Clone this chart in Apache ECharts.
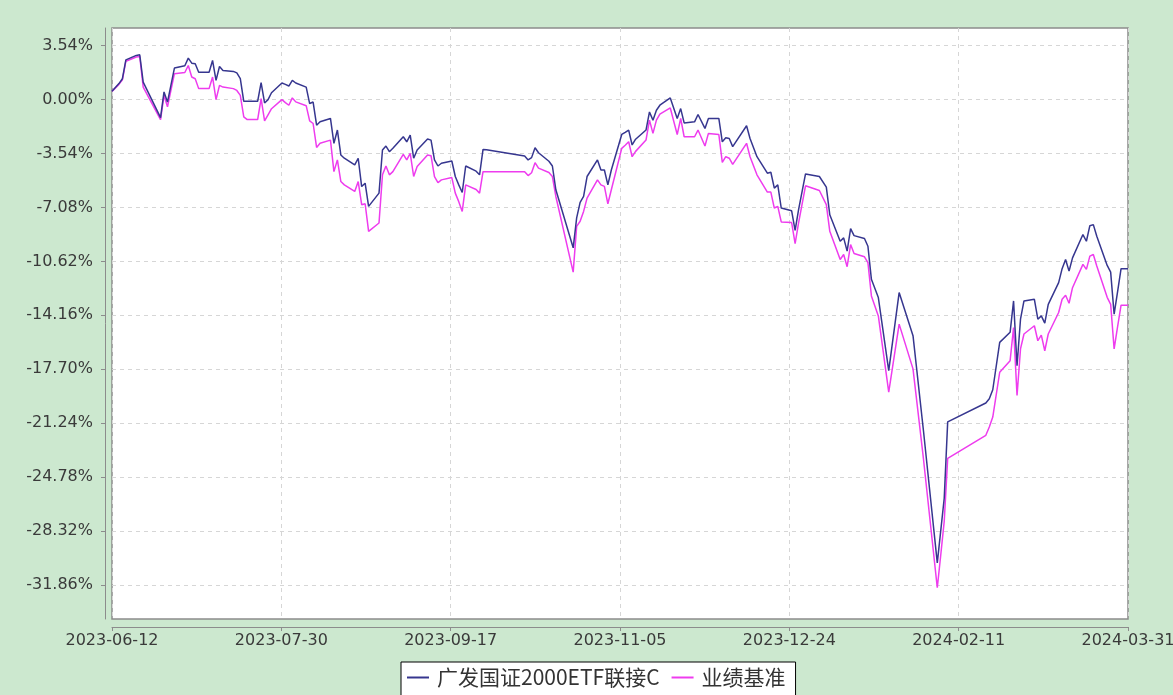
<!DOCTYPE html>
<html>
<head>
	<meta charset="utf-8">
	<title>广发国证2000ETF联接C</title>
	<style type="text/css">
		body{
			margin: 0px;
			background: #cce8cf;
		}
		.chart{
			width: 1173px;
			height: 695px;
		}
	</style>
	<script type="text/javascript" src="https://cdn.jsdelivr.net/npm/echarts@6/dist/echarts.min.js"></script>
</head>
<body>
	<div id="chart" class="chart"></div>
	<script type="text/javascript">
		var seriesNames = ['广发国证2000ETF联接C', '业绩基准'];
		var startDate = '2023-06-12', endDate = '2024-03-31';
		var yTicks = [3.54, 0, -3.54, -7.08, -10.62, -14.16, -17.70, -21.24, -24.78, -28.32, -31.86];

		var dates = [
			'2023-06-12', '2023-06-14', '2023-06-15', '2023-06-16', '2023-06-19', '2023-06-20', '2023-06-21', '2023-06-26', '2023-06-27', '2023-06-28',
			'2023-06-30', '2023-07-03', '2023-07-04', '2023-07-05', '2023-07-06', '2023-07-07', '2023-07-10', '2023-07-11', '2023-07-12', '2023-07-13',
			'2023-07-14', '2023-07-17', '2023-07-18', '2023-07-19', '2023-07-20', '2023-07-21', '2023-07-24', '2023-07-25', '2023-07-26', '2023-07-27',
			'2023-07-28', '2023-07-31', '2023-08-01', '2023-08-02', '2023-08-03', '2023-08-04', '2023-08-07', '2023-08-08', '2023-08-09', '2023-08-10',
			'2023-08-11', '2023-08-14', '2023-08-15', '2023-08-16', '2023-08-17', '2023-08-18', '2023-08-21', '2023-08-22', '2023-08-23', '2023-08-24',
			'2023-08-25', '2023-08-28', '2023-08-29', '2023-08-30', '2023-08-31', '2023-09-01', '2023-09-04', '2023-09-05', '2023-09-06', '2023-09-07',
			'2023-09-08', '2023-09-11', '2023-09-12', '2023-09-13', '2023-09-14', '2023-09-15', '2023-09-18', '2023-09-19', '2023-09-20', '2023-09-21',
			'2023-09-22', '2023-09-25', '2023-09-26', '2023-09-27', '2023-09-28', '2023-10-09', '2023-10-10', '2023-10-11', '2023-10-12', '2023-10-13',
			'2023-10-16', '2023-10-17', '2023-10-18', '2023-10-23', '2023-10-24', '2023-10-25', '2023-10-26', '2023-10-27', '2023-10-30', '2023-10-31',
			'2023-11-01', '2023-11-02', '2023-11-03', '2023-11-06', '2023-11-07', '2023-11-08', '2023-11-09', '2023-11-10', '2023-11-13', '2023-11-14',
			'2023-11-15', '2023-11-16', '2023-11-17', '2023-11-20', '2023-11-22', '2023-11-23', '2023-11-24', '2023-11-27', '2023-11-28', '2023-11-30',
			'2023-12-01', '2023-12-04', '2023-12-05', '2023-12-06', '2023-12-07', '2023-12-08', '2023-12-12', '2023-12-13', '2023-12-15', '2023-12-18',
			'2023-12-19', '2023-12-20', '2023-12-21', '2023-12-22', '2023-12-25', '2023-12-26', '2023-12-27', '2023-12-29', '2024-01-02', '2024-01-04',
			'2024-01-05', '2024-01-08', '2024-01-09', '2024-01-10', '2024-01-11', '2024-01-12', '2024-01-15', '2024-01-16', '2024-01-17', '2024-01-19',
			'2024-01-22', '2024-01-25', '2024-01-29', '2024-02-01', '2024-02-05', '2024-02-06', '2024-02-07', '2024-02-08', '2024-02-19', '2024-02-20',
			'2024-02-21', '2024-02-23', '2024-02-26', '2024-02-27', '2024-02-28', '2024-02-29', '2024-03-01', '2024-03-04', '2024-03-05', '2024-03-06',
			'2024-03-07', '2024-03-08', '2024-03-11', '2024-03-12', '2024-03-13', '2024-03-14', '2024-03-15', '2024-03-18', '2024-03-19', '2024-03-20',
			'2024-03-21', '2024-03-22', '2024-03-25', '2024-03-26', '2024-03-27', '2024-03-28', '2024-03-29', '2024-03-31'
		];
		// 基金累计收益率(%)
		var fundValues = [
			0.54, 1.05, 1.37, 2.61, 2.90, 2.94, 1.15, -1.18, 0.50, -0.16,
			2.07, 2.22, 2.72, 2.39, 2.35, 1.80, 1.80, 2.57, 1.26, 2.17,
			1.91, 1.85, 1.75, 1.37, -0.11, -0.11, -0.11, 1.11, -0.22, 0.00,
			0.45, 1.09, 1.00, 0.89, 1.26, 1.09, 0.82, -0.26, -0.16, -1.68,
			-1.46, -1.24, -2.87, -2.00, -3.64, -3.85, -4.29, -3.85, -5.71, -5.49,
			-7.01, -6.14, -3.31, -3.05, -3.42, -3.20, -2.44, -2.77, -2.33, -3.85,
			-3.31, -2.59, -2.66, -3.96, -4.36, -4.18, -4.03, -5.05, -5.60, -6.10,
			-4.36, -4.70, -4.94, -3.27, -3.30, -3.70, -3.96, -3.81, -3.16, -3.49,
			-4.05, -4.36, -5.92, -9.73, -7.77, -6.75, -6.36, -5.05, -3.96, -4.62,
			-4.62, -5.60, -4.62, -2.29, -2.15, -2.00, -2.98, -2.60, -2.00, -0.81,
			-1.35, -0.70, -0.37, 0.11, -1.24, -0.59, -1.53, -1.46, -0.98, -1.89,
			-1.24, -1.24, -2.77, -2.51, -2.55, -3.09, -1.72, -2.55, -3.75, -4.83,
			-4.77, -5.81, -5.60, -7.12, -7.30, -8.58, -7.23, -4.88, -5.05, -5.75,
			-7.56, -9.30, -9.08, -9.95, -8.47, -8.93, -9.12, -9.63, -11.80, -13.00,
			-17.79, -12.67, -15.50, -21.71, -30.42, -28.30, -26.17, -21.16, -19.92, -19.64,
			-19.05, -15.94, -15.28, -13.22, -17.47, -14.42, -13.22, -13.11, -14.42, -14.20,
			-14.68, -13.44, -12.02, -11.10, -10.50, -11.26, -10.39, -8.86, -9.30, -8.28,
			-8.21, -8.97, -10.89, -11.33, -14.09, -12.60, -11.10, -11.10
		];
		// 业绩基准累计收益率(%)
		var benchValues = [
			0.54, 1.00, 1.30, 2.52, 2.80, 2.83, 0.82, -1.31, 0.28, -0.48,
			1.70, 1.78, 2.24, 1.48, 1.37, 0.72, 0.72, 1.48, 0.00, 0.93,
			0.82, 0.72, 0.60, 0.28, -1.13, -1.31, -1.31, 0.07, -1.40, -1.00,
			-0.60, 0.00, -0.20, -0.37, 0.11, -0.15, -0.40, -1.40, -1.57, -3.14,
			-2.87, -2.66, -4.73, -3.96, -5.38, -5.60, -6.03, -5.38, -6.90, -6.84,
			-8.65, -8.10, -4.94, -4.36, -4.94, -4.73, -3.59, -3.96, -3.53, -5.05,
			-4.40, -3.64, -3.68, -5.05, -5.45, -5.27, -5.12, -6.14, -6.70, -7.34,
			-5.60, -5.90, -6.14, -4.73, -4.73, -4.73, -4.99, -4.80, -4.14, -4.50,
			-4.79, -5.05, -6.36, -11.33, -8.32, -7.99, -7.34, -6.47, -5.27, -5.60,
			-5.70, -6.84, -5.92, -3.20, -3.00, -2.77, -3.75, -3.40, -2.66, -1.35,
			-2.22, -1.35, -0.95, -0.55, -2.29, -1.24, -2.44, -2.44, -2.00, -3.05,
			-2.22, -2.29, -4.12, -3.75, -3.85, -4.25, -2.87, -3.75, -4.94, -6.07,
			-6.07, -7.12, -7.01, -8.03, -8.07, -9.45, -8.10, -5.66, -5.97, -6.90,
			-8.65, -10.50, -10.17, -10.97, -9.52, -10.10, -10.32, -10.71, -12.89, -14.20,
			-19.20, -14.74, -17.68, -23.56, -32.05, -29.90, -27.69, -23.56, -22.04, -21.50,
			-20.84, -17.90, -17.14, -14.96, -19.43, -16.37, -15.39, -14.85, -15.83, -15.46,
			-16.49, -15.39, -13.98, -13.11, -12.85, -13.37, -12.35, -10.82, -11.15, -10.28,
			-10.17, -10.93, -12.98, -13.44, -16.37, -14.90, -13.50, -13.50
		];

		var DAY = 86400000;
		function toDay(str){
			var p = str.split('-');
			return Date.UTC(+p[0], +p[1] - 1, +p[2]);
		}
		var t0 = toDay(startDate);
		var totalDays = (toDay(endDate) - t0) / DAY;
		function dayLabel(v){
			var d = new Date(t0 + Math.floor(v + 1e-6) * DAY);
			var m = d.getUTCMonth() + 1, dd = d.getUTCDate();
			return d.getUTCFullYear() + '-' + (m < 10 ? '0' + m : m) + '-' + (dd < 10 ? '0' + dd : dd);
		}
		function pairs(values){
			var out = [];
			for(var i = 0; i < dates.length; i++){
				out.push([(toDay(dates[i]) - t0) / DAY, values[i]]);
			}
			return out;
		}

		window.onload = function(){
			var chart = echarts.init(document.getElementById('chart'));
			chart.setOption({
				animation: false,
				backgroundColor: '#cce8cf',
				color: ['#36368f', '#ee3cee'],
				grid: {
					left: 112,
					right: 45,
					top: 28,
					bottom: 76,
					outerBoundsMode: 'none',
					containLabel: false,
					show: true,
					backgroundColor: '#ffffff',
					borderColor: '#8c8c8c',
					borderWidth: 1.5
				},
				legend: {
					data: seriesNames,
					left: 401,
					top: 662,
					icon: 'rect',
					itemWidth: 22,
					itemHeight: 2,
					itemGap: 12,
					padding: [5, 10, 10, 6],
					backgroundColor: '#ffffff',
					borderColor: '#000000',
					borderWidth: 1,
					borderRadius: 0,
					textStyle: {
						fontFamily: 'Noto Sans CJK SC',
						fontSize: 21,
						color: '#333333',
						padding: [0, 0, 0, 3]
					}
				},
				xAxis: {
					type: 'value',
					min: 0,
					max: totalDays,
					interval: totalDays / 6,
					offset: 8,
					axisLine: {
						onZero: false,
						lineStyle: {
							color: '#8c8c8c'
						}
					},
					axisTick: {
						length: 4,
						lineStyle: {
							color: '#8c8c8c'
						}
					},
					axisLabel: {
						margin: 6,
						fontFamily: 'DejaVu Sans',
						fontSize: 16,
						color: '#3a3a3a',
						showMinLabel: true,
						showMaxLabel: true,
						hideOverlap: false,
						formatter: dayLabel
					},
					splitLine: {
						show: true,
						lineStyle: {
							color: '#d6d6d6',
							type: [4, 4]
						}
					}
				},
				yAxis: {
					type: 'value',
					min: -34.1,
					max: 4.7,
					offset: 7,
					axisLine: {
						show: true,
						onZero: false,
						lineStyle: {
							color: '#8c8c8c'
						}
					},
					axisTick: {
						show: true,
						length: 4,
						customValues: yTicks,
						lineStyle: {
							color: '#8c8c8c'
						}
					},
					axisLabel: {
						margin: 12,
						fontFamily: 'DejaVu Sans',
						fontSize: 16,
						color: '#3a3a3a',
						customValues: yTicks,
						formatter: function(v){
							return v.toFixed(2) + '%';
						}
					},
					splitLine: {
						show: true,
						lineStyle: {
							color: '#d6d6d6',
							type: [4, 4]
						}
					}
				},
				series: [{
					name: seriesNames[0],
					type: 'line',
					showSymbol: false,
					data: pairs(fundValues),
					lineStyle: {
						width: 1.5
					},
					z: 3
				}, {
					name: seriesNames[1],
					type: 'line',
					showSymbol: false,
					data: pairs(benchValues),
					lineStyle: {
						width: 1.5
					},
					z: 2
				}]
			});
		}
	</script>
</body>
</html>
